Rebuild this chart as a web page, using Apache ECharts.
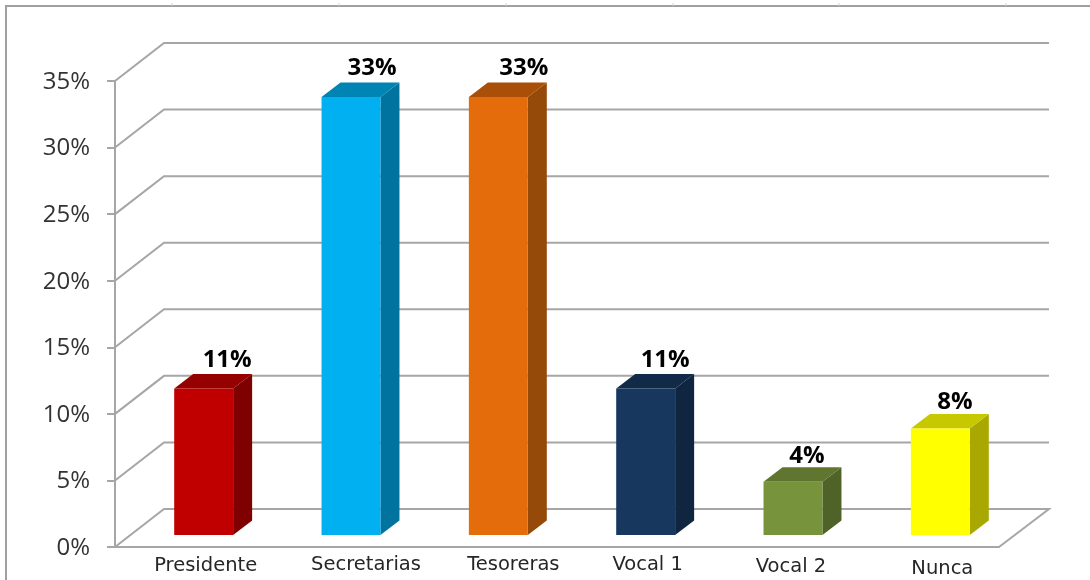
<!DOCTYPE html>
<html>
<head>
<meta charset="utf-8">
<style>html,body{margin:0;padding:0;background:#fff}#c{width:1090px;height:580px;filter:blur(0.45px)}</style>
<script src="https://cdn.jsdelivr.net/npm/echarts@6/dist/echarts.min.js"></script>
</head>
<body>
<div id="c"></div>
<script>
const categories = ['Presidente', 'Secretarias', 'Tesoreras', 'Vocal 1', 'Vocal 2', 'Nunca'];
const values = [11, 32.9, 32.9, 11, 4, 8];
const yTicks = [0, 5, 10, 15, 20, 25, 30, 35];
const frontColors = ['#c00000', '#00b0f0', '#e46c0a', '#17375e', '#77933c', '#ffff00'];
const topColors = ['#950000', '#0084b4', '#a94f07', '#112a47', '#5f7530', '#c8c800'];
const sideColors = ['#7f0000', '#00749e', '#954a09', '#10253f', '#4f6228', '#a8a800'];
const labelShiftX = [23.5, 21, 25.5, 19.5, 14, 14.5];
const labelShiftY = [0, -1, -1, 0, 2, 2];
const catShiftX = [17, 30, 30, 17, 13, 17];
const catShiftY = [0.5, 0, 0, 0, 1, 2];

const GRID = '#a6a6a6';
const FONT = '"Open Sans", sans-serif';
const WALL = {x: 49, y: -38};
const BASE = {x: 15, y: -12};
const BAR = {x: 19, y: -14.5};

const rich = {
  y: {fontFamily: FONT, fontSize: 24, color: '#333', padding: [2, 0, 0, 0]}
};
categories.forEach((c, i) => {
  rich['c' + i] = {
    fontFamily: '"DejaVu Sans", sans-serif', fontSize: 19.5, color: '#262626',
    padding: [catShiftY[i] * 2, 0, 0, catShiftX[i] * 2]
  };
});

function renderWall(params, api) {
  const v = api.value(1);
  const y = api.coord([0, v])[1];
  const g = params.coordSys;
  const pts = [[g.x, y], [g.x + WALL.x, y + WALL.y], [g.x + g.width + WALL.x + 1, y + WALL.y]];
  if (v === 0) pts.push([g.x + g.width, y]);
  return {type: 'polyline', shape: {points: pts}, style: {fill: null, stroke: GRID, lineWidth: 2}};
}

function renderBar(params, api) {
  const i = api.value(0);
  const top = api.coord([i, api.value(1)]);
  const bottom = api.coord([i, 0]);
  const w = api.size([1, 0])[0] * 0.4;
  const x0 = top[0] + BASE.x - w / 2, x1 = x0 + w;
  const y0 = top[1] + BASE.y, y1 = bottom[1] + BASE.y;
  return {
    type: 'group',
    children: [
      {type: 'polygon', shape: {points: [[x1, y0], [x1 + BAR.x, y0 + BAR.y], [x1 + BAR.x, y1 + BAR.y], [x1, y1]]}, style: {fill: sideColors[i]}},
      {type: 'polygon', shape: {points: [[x0, y0], [x0 + BAR.x, y0 + BAR.y], [x1 + BAR.x, y0 + BAR.y], [x1, y0]]}, style: {fill: topColors[i]}},
      {type: 'rect', shape: {x: x0, y: y0, width: w, height: y1 - y0}, style: {fill: frontColors[i]}},
      {type: 'text', x: top[0] + BASE.x + labelShiftX[i], y: y0 - 28 + labelShiftY[i], style: {
        text: Math.round(api.value(1)) + '%', fill: '#000', fontFamily: FONT, fontWeight: 'bold', fontSize: 24,
        align: 'center', verticalAlign: 'middle'
      }}
    ]
  };
}

const frameTicks = [172, 339, 506, 673, 839, 1006].map(x => ({
  type: 'line', shape: {x1: x, y1: 3, x2: x, y2: 6}, style: {stroke: '#d0d0d0', lineWidth: 1}
}));

const chart = echarts.init(document.getElementById('c'), null, {renderer: 'canvas'});
chart.setOption({
  animation: false,
  backgroundColor: '#fff',
  grid: {left: 115, top: 81, width: 884, height: 466},
  xAxis: {
    type: 'category', data: categories,
    axisLine: {show: true, lineStyle: {color: GRID, width: 2}},
    axisTick: {show: false},
    axisLabel: {
      margin: 8, interval: 0,
      formatter: (val, idx) => '{c' + idx + '|' + val + '}',
      rich
    }
  },
  yAxis: {
    type: 'value', min: 0, max: 35, interval: 5,
    splitLine: {show: false},
    axisLine: {show: true, lineStyle: {color: GRID, width: 2}},
    axisTick: {show: true, length: 8, lineStyle: {color: GRID, width: 2}},
    axisLabel: {margin: 25, formatter: v => '{y|' + v + '%}', rich}
  },
  series: [
    {type: 'custom', silent: true, clip: false, z: 1, renderItem: renderWall,
      data: yTicks.map(t => [0, t]), encode: {x: 0, y: 1}},
    {type: 'custom', silent: true, clip: false, z: 3, renderItem: renderBar,
      data: values.map((v, i) => [i, v]), encode: {x: 0, y: 1}}
  ],
  graphic: [
    {type: 'polyline', shape: {points: [[6, 580], [6, 6], [1090, 6]]}, style: {fill: null, stroke: '#a0a0a0', lineWidth: 2}},
    ...frameTicks
  ]
});
</script>
</body>
</html>
